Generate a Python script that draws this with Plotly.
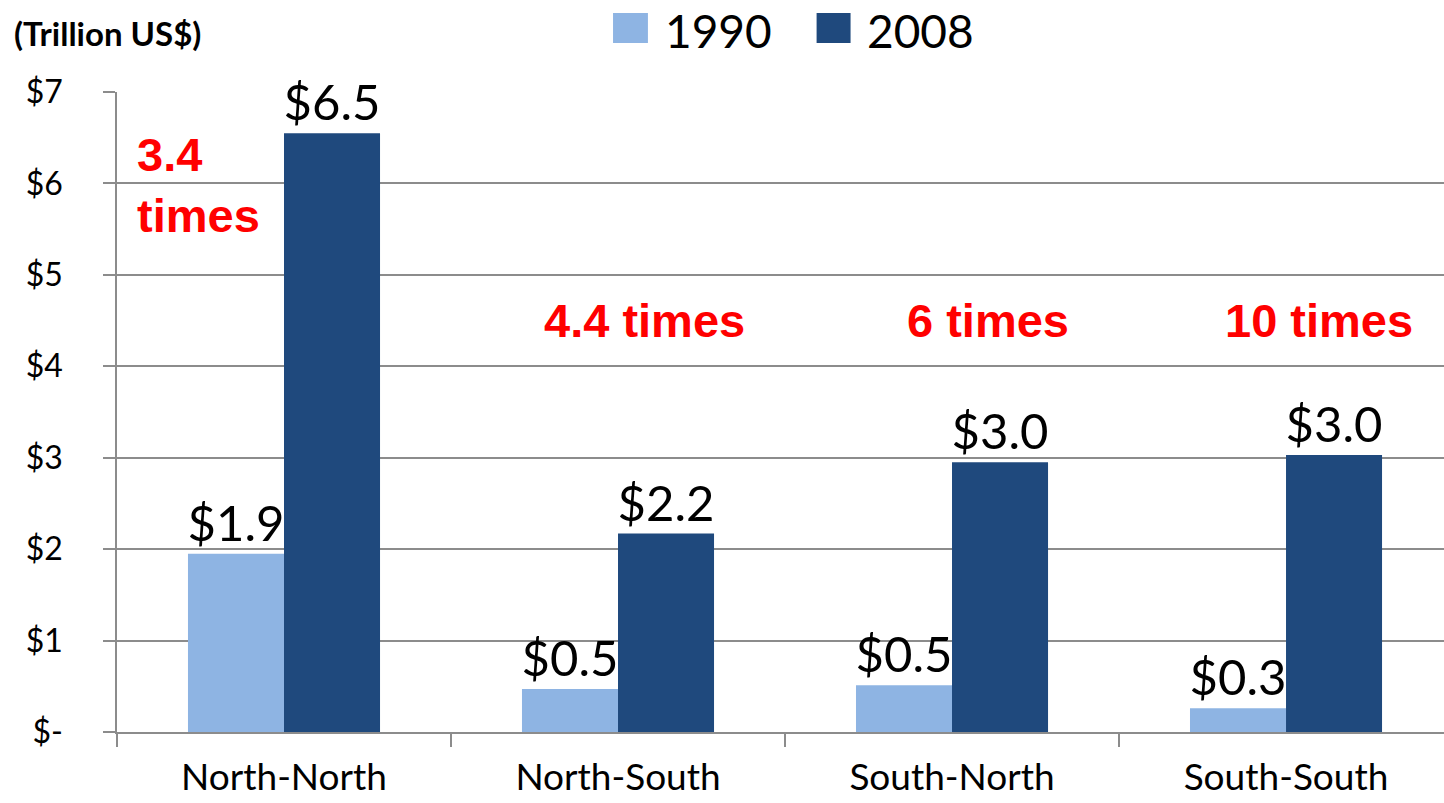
import plotly.graph_objects as go

categories = ["North-North", "North-South", "South-North", "South-South"]
series_names = ["1990", "2008"]
values_1990 = [1.95, 0.47, 0.51, 0.26]
values_2008 = [6.55, 2.17, 2.95, 3.03]
labels_1990 = ["$1.9", "$0.5", "$0.5", "$0.3"]
labels_2008 = ["$6.5", "$2.2", "$3.0", "$3.0"]
growth_labels = ["3.4<br>times", "4.4 times", "6 times", "10 times"]
y_tick_vals = [0, 1, 2, 3, 4, 5, 6, 7]
y_tick_text = ["$-", "$1", "$2", "$3", "$4", "$5", "$6", "$7"]

colors = ["#8EB4E3", "#1F497D"]
base_font = "Lato, 'Open Sans', sans-serif"
red_font = "'Liberation Sans', Arial, sans-serif"

fig = go.Figure()
for name, vals, labs, col in [(series_names[0], values_1990, labels_1990, colors[0]),
                              (series_names[1], values_2008, labels_2008, colors[1])]:
    fig.add_trace(go.Bar(
        x=categories, y=vals, name=name, text=labs,
        textposition="outside", constraintext="none", cliponaxis=False,
        textfont=dict(family=base_font, size=49, color="black"),
        marker=dict(color=col, line=dict(width=0)),
        showlegend=False,
    ))

grid_col = "#8C8C8C"
fig.update_layout(
    width=1444, height=803,
    margin=dict(l=117, r=0, t=92, b=71, autoexpand=False),
    paper_bgcolor="white", plot_bgcolor="white",
    barmode="group", bargap=0.425, bargroupgap=0,
    font=dict(family=base_font, color="black"),
    xaxis=dict(
        range=[-0.5, 3.473], tickson="boundaries", ticks="outside", ticklen=13,
        tickcolor=grid_col, tickwidth=1.5, showline=True, linecolor=grid_col, linewidth=1.5,
        showgrid=False, tickfont=dict(family=base_font, size=37, color="black"),
        ticklabelstandoff=12, automargin=False,
    ),
    yaxis=dict(
        range=[0, 7], tickvals=y_tick_vals, ticktext=y_tick_text,
        ticks="outside", ticklen=12, tickcolor=grid_col, tickwidth=1.5,
        showline=True, linecolor=grid_col, linewidth=1.5,
        showgrid=True, gridcolor=grid_col, gridwidth=1.5, zeroline=False,
        tickfont=dict(family=base_font, size=32, color="black"),
        ticklabelstandoff=34, automargin=False,
    ),
)

# growth annotations
growth_pos = [(-0.446, 6.63, "left", "top"), (1.08, 4.5, "center", "middle"),
              (2.108, 4.5, "center", "middle"), (3.10, 4.5, "center", "middle")]
for txt, (x, y, xa, ya) in zip(growth_labels, growth_pos):
    fig.add_annotation(x=x, y=y, xref="x", yref="y", text="<b>" + txt + "</b>",
                       showarrow=False, xanchor=xa, yanchor=ya, align="left",
                       font=dict(family=red_font, size=47, color="#FF0000"))

# unit label
fig.add_annotation(x=-0.0791, y=1.0922, xref="paper", yref="paper",
                   text="<b>(Trillion US$)</b>", showarrow=False,
                   xanchor="left", yanchor="middle",
                   font=dict(family=base_font, size=33, color="black"))

# legend (manual, large swatches)
legend_items = [(0.3738, 0.4001, 0.4115), (0.5272, 0.5528, 0.5635)]
for (x0, x1, xt), name, col in zip(legend_items, series_names, colors):
    fig.add_shape(type="rect", xref="paper", yref="paper", x0=x0, x1=x1,
                  y0=1.0766, y1=1.1234, fillcolor=col, line=dict(width=0))
    fig.add_annotation(x=xt, y=1.096, xref="paper", yref="paper", text=name,
                       showarrow=False, xanchor="left", yanchor="middle",
                       font=dict(family=base_font, size=46, color="black"))

fig.write_html("out.html", config={"displayModeBar": False},
               post_script="document.body.style.margin='0';document.body.style.overflow='hidden';")
